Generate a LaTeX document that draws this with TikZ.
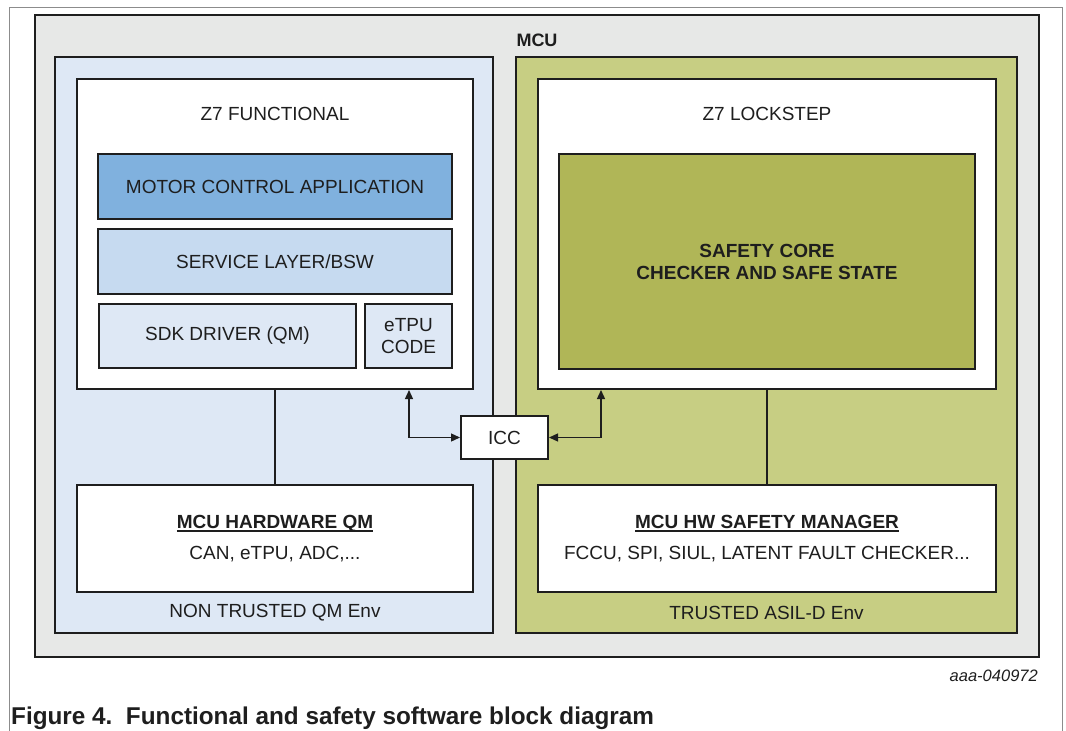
\documentclass[tikz,border=0pt]{standalone}
\usepackage{fontspec}
\setmainfont{Liberation Sans}
\usepackage{tikz}
\usetikzlibrary{arrows.meta,positioning}
\usepackage{xcolor}

\definecolor{mcugray}{HTML}{E7E8E7}
\definecolor{qmblue}{HTML}{DEE8F5}
\definecolor{asilgreen}{HTML}{C7CE83}
\definecolor{appblue}{HTML}{80B1DE}
\definecolor{bswblue}{HTML}{C6DAF0}
\definecolor{coregreen}{HTML}{B0B657}
\definecolor{txtgray}{HTML}{1E1E1E}
\definecolor{framegray}{HTML}{8C8C8C}

\newcommand{\ulhead}[1]{\sbox0{\bfseries #1}\leavevmode\rlap{\rule[-3.2pt]{\wd0}{1.6pt}}\usebox0}

\begin{document}
\begin{tikzpicture}[x=1pt, y=-1pt,
    every node/.style={text=txtgray, font=\fontsize{19}{22}\selectfont},
    env/.style={rectangle, draw=txtgray, line width=2pt, inner sep=0pt},
    comp/.style={rectangle, draw=txtgray, line width=2pt, align=center, inner sep=0pt},
    lbl/.style={inner sep=0pt, align=center},
    link/.style={draw=txtgray, line width=1.3pt},
    biarrow/.style={{Triangle[length=9pt,width=8pt]}-{Triangle[length=9pt,width=8pt]}, draw=txtgray, line width=1.3pt}
  ]
    \useasboundingbox (0,0) rectangle (1066,731);
    \draw[framegray, line width=1pt] (9,731) -- (9,7) -- (1062,7) -- (1062,731);

    \node[env, fill=mcugray, minimum width=1004pt, minimum height=642pt] (mcu) at (537,336) {};
    \node[lbl, font=\fontsize{18}{22}\selectfont\bfseries] (mculbl) at (537,40) {MCU};

    \node[env, fill=qmblue, minimum width=438pt, minimum height=576pt] (qmenv) at (274,345) {};
    \node[env, fill=asilgreen, minimum width=501pt, minimum height=576pt] (asilenv) at (766.5,345) {};

    \node[comp, fill=white, minimum width=396pt, minimum height=310pt] (func) at (275,234) {};
    \node[comp, fill=white, minimum width=458pt, minimum height=310pt] (lock) at (767,234) {};
    \node[lbl] (funclbl) at (275,114) {Z7 FUNCTIONAL};
    \node[lbl] (locklbl) at (767,114) {Z7 LOCKSTEP};

    \node[comp, fill=appblue, minimum width=354pt, minimum height=65pt] (app) at (275,186.5) {MOTOR CONTROL APPLICATION};
    \node[comp, fill=bswblue, minimum width=354pt, minimum height=65pt] (bsw) at (275,261.5) {SERVICE LAYER/BSW};
    \node[comp, fill=qmblue, minimum width=257pt, minimum height=64pt] (sdk) at (227.5,336) {SDK DRIVER (QM)};
    \node[comp, fill=qmblue, minimum width=87pt, minimum height=64pt] (etpu) at (408.5,336) {eTPU\\CODE};

    \node[comp, fill=coregreen, minimum width=416pt, minimum height=215pt, font=\fontsize{19}{22}\selectfont\bfseries] (core) at (767,261.5) {SAFETY CORE\\CHECKER AND SAFE STATE};

    \node[comp, fill=white, minimum width=87pt, minimum height=43pt] (icc) at (504.5,437.5) {ICC};

    \node[comp, fill=white, minimum width=396pt, minimum height=107pt] (hwqm) at (275,538.5) {\ulhead{MCU HARDWARE QM}\\[9pt]CAN, eTPU, ADC,...};
    \node[comp, fill=white, minimum width=458pt, minimum height=107pt] (hwsafe) at (767,538.5) {\ulhead{MCU HW SAFETY MANAGER}\\[9pt]FCCU, SPI, SIUL, LATENT FAULT CHECKER...};

    \node[lbl] (qmlbl) at (275,613) {NON TRUSTED QM Env};
    \node[lbl] (asillbl) at (766.5,613) {TRUSTED ASIL-D Env};

    \draw[link] (func.south) -- (hwqm.north);
    \draw[link] (lock.south) -- (hwsafe.north);
    \draw[biarrow] (icc.west) -| ([xshift=134pt]func.south);
    \draw[biarrow] (icc.east) -| ([xshift=-166pt]lock.south);

    \node[lbl, anchor=east, font=\fontsize{16.5}{19}\selectfont\itshape] (figid) at (1038,676) {aaa-040972};
    \node[lbl, anchor=west, font=\fontsize{24.3}{27}\selectfont\bfseries] (caption) at (11,718) {Figure 4.\ \ Functional and safety software block diagram};
  \end{tikzpicture}
\end{document}
